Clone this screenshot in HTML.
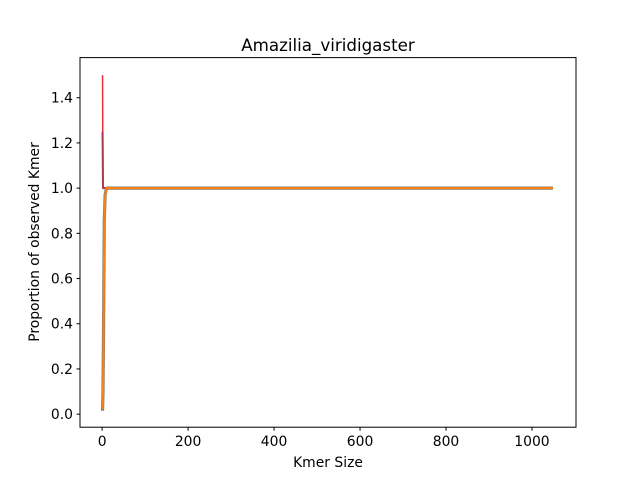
<!DOCTYPE html>
<html><head><meta charset="utf-8"><style>
body{margin:0;background:#fff}
svg text{font-family:"DejaVu Sans","Liberation Sans",sans-serif;fill:#000}
</style></head><body>
<svg id="chart" width="640" height="480" xmlns="http://www.w3.org/2000/svg">
<rect width="640" height="480" fill="#fff"/>
<text x="328" y="51" font-size="16.7" text-anchor="middle">Amazilia_viridigaster</text>
<g id="plot"></g>
<rect x="80" y="57.6" width="496" height="369.6" fill="none" stroke="#000" stroke-width="1"/>
<text x="328" y="467" font-size="13.9" text-anchor="middle">Kmer Size</text>
<text transform="translate(39,242) rotate(-90)" font-size="13.9" text-anchor="middle">Proportion of observed Kmer</text>
</svg>
<script>
const xTicks=[0,200,400,600,800,1000];
const yTicks=[0.0,0.2,0.4,0.6,0.8,1.0,1.2,1.4];
const kmers=[1,2,3,5,7,9,11,15,21,51,101,201,401,601,801,1049];
const redVals=[1.5,1.0,1.0,1.0,1.0,1.0,1.0,1.0,1.0,1.0,1.0,1.0,1.0,1.0,1.0,1.0];
const purpleVals=[1.25,1.0,1.0,1.0,1.0,1.0,1.0,1.0,1.0,1.0,1.0,1.0,1.0,1.0,1.0,1.0];
const greyVals=[0.015,0.1,0.3,0.85,0.97,0.99,1.0,1.0,1.0,1.0,1.0,1.0,1.0,1.0,1.0,1.0];
const orangeVals=[0.02,0.1,0.28,0.83,0.96,0.99,1.0,1.0,1.0,1.0,1.0,1.0,1.0,1.0,1.0,1.0];
const xMin=-51.45,xMax=1102.45,yMin=-0.0577,yMax=1.5775;
const L=80,R=576,T=57.6,B=427.2;
const xs=v=>L+(v-xMin)/(xMax-xMin)*(R-L);
const ys=v=>B-(v-yMin)/(yMax-yMin)*(B-T);
const NS="http://www.w3.org/2000/svg";
const svg=document.getElementById('chart');
const g=document.getElementById('plot');
function mk(t,a){const e=document.createElementNS(NS,t);for(const k in a)e.setAttribute(k,a[k]);return e;}
xTicks.forEach(v=>{
  const x=xs(v);
  const tk=mk('line',{x1:x,x2:x,y1:B,y2:B+3.5,stroke:'#000'});
  
  
  svg.appendChild(tk);
  const t=mk('text',{x:x,y:B+19,'font-size':13.9,'text-anchor':'middle'});
  t.textContent=v;
  
  
  svg.appendChild(t);
});
yTicks.forEach(v=>{
  const y=ys(v);
  const tk=mk('line',{x1:L-3.5,x2:L,y1:y,y2:y,stroke:'#000'});
  
  
  svg.appendChild(tk);
  const t=mk('text',{x:L-7,y:y+5,'font-size':13.9,'text-anchor':'end'});
  t.textContent=v.toFixed(1);
  
  
  svg.appendChild(t);
});
function series(vals,color,w,name){
  const d=kmers.map((k,i)=>(i?'L':'M')+xs(k).toFixed(2)+','+ys(vals[i]).toFixed(2)).join(' ');
  const p=mk('path',{d:d,fill:'none',stroke:color,'stroke-width':w,'stroke-linejoin':'round'});
  
  
  g.appendChild(p);
}
series(redVals,'#e8303a',1.5,'series-red-line');
series(purpleVals,'#b0384e',2,'series-purple-line');
series(greyVals,'#7f7f7f',3.2,'series-grey-line');
series(orangeVals,'#ff7f0e',2,'series-orange-line');
</script>
</body></html>
